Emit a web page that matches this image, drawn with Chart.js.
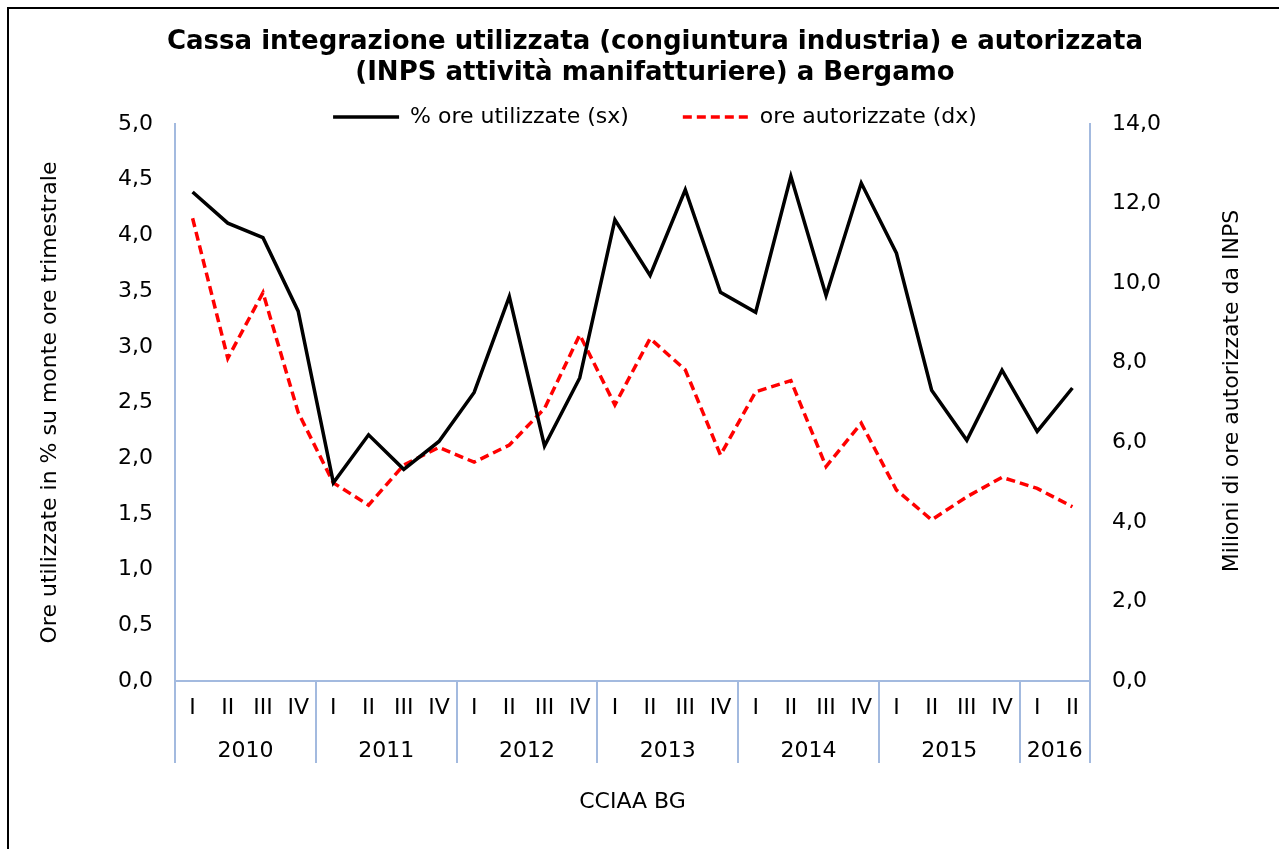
<!DOCTYPE html>
<html><head><meta charset="utf-8">
<script src="https://cdn.jsdelivr.net/npm/chart.js@4.4.1/dist/chart.umd.min.js"></script>
<style>
html,body{margin:0;padding:0;background:#fff;overflow:hidden;}
#wrap{position:relative;width:1279px;height:849px;}
#frame{position:absolute;left:7px;top:7px;width:1400px;height:1000px;border:2px solid #000;pointer-events:none;}
canvas{position:absolute;left:0;top:0;}
</style></head><body>
<div id="wrap"><canvas id="c" width="1279" height="849"></canvas><div id="frame"></div></div>
<script>
const quarters = ['I','II','III','IV','I','II','III','IV','I','II','III','IV','I','II','III','IV','I','II','III','IV','I','II','III','IV','I','II'];
const years = ['2010','2011','2012','2013','2014','2015','2016'];
const quartersPerYear = [4,4,4,4,4,4,2];
const oreUtilizzate = [4.39,4.11,3.98,3.32,1.78,2.21,1.90,2.15,2.59,3.45,2.11,2.72,4.14,3.64,4.41,3.49,3.31,4.53,3.46,4.47,3.84,2.61,2.16,2.79,2.24,2.63];
const oreAutorizzate = [11.63,8.11,9.76,6.75,4.98,4.42,5.43,5.87,5.50,5.93,6.85,8.70,6.94,8.61,7.82,5.68,7.27,7.55,5.39,6.48,4.80,4.05,4.63,5.12,4.84,4.38];
const seriesNames = ['% ore utilizzate (sx)','ore autorizzate (dx)'];
const titleLines = ['Cassa integrazione utilizzata (congiuntura industria) e autorizzata','(INPS attività manifatturiere) a Bergamo'];
const leftTitle = 'Ore utilizzate in % su monte ore trimestrale';
const rightTitle = 'Milioni di ore autorizzate da INPS';
const xTitle = 'CCIAA BG';

const FONT = 'DejaVu Sans';
const FS = 22;
const AXIS = '#a3badf';
const fmt = v => Number(v).toFixed(1).replace('.', ',');

const yearAxisPlugin = {
  id: 'yearAxis',
  afterLayout(chart) {
    // nudge the legend box down so its text sits just above the plot area
    const l = chart.legend;
    if (l) { l.top += 14; l.bottom += 14; }
  },
  afterDraw(chart) {
    const xs = chart.scales.x, ctx = chart.ctx;
    const n = quarters.length;
    const step = (xs.right - xs.left) / n;
    const y0 = xs.top, y1 = xs.top + 82;
    ctx.save();
    ctx.strokeStyle = AXIS; ctx.lineWidth = 2;
    let idx = 0; const bounds = [0];
    quartersPerYear.forEach(q => { idx += q; bounds.push(idx); });
    bounds.forEach(b => {
      const px = Math.round(xs.left + b * step);
      ctx.beginPath(); ctx.moveTo(px, y0); ctx.lineTo(px, y1); ctx.stroke();
    });
    ctx.fillStyle = '#000';
    ctx.font = FS + 'px "' + FONT + '"';
    ctx.textAlign = 'center'; ctx.textBaseline = 'middle';
    years.forEach((yr, i) => {
      const cx = xs.left + (bounds[i] + bounds[i + 1]) / 2 * step;
      ctx.fillText(yr, cx, xs.top + 70);
    });
    ctx.translate(1232, 391);
    ctx.rotate(-Math.PI / 2);
    ctx.fillText(rightTitle, 0, 0);
    ctx.restore();
  }
};

new Chart(document.getElementById('c'), {
  type: 'line',
  data: {
    labels: quarters,
    datasets: [
      { label: seriesNames[0], data: oreUtilizzate, yAxisID: 'y', borderColor: '#000', backgroundColor: '#000',
        borderWidth: 3.5, pointRadius: 0, pointStyle: 'line', tension: 0, borderJoinStyle: 'miter' },
      { label: seriesNames[1], data: oreAutorizzate, yAxisID: 'y1', borderColor: '#ff0000', backgroundColor: '#ff0000',
        borderWidth: 3.5, borderDash: [9, 5], pointRadius: 0, pointStyle: 'line', tension: 0 }
    ]
  },
  options: {
    responsive: false,
    animation: false,
    devicePixelRatio: 1,
    layout: { padding: { left: 31, right: 0, top: 0, bottom: 0 } },
    plugins: {
      title: {
        display: true, text: titleLines, color: '#000',
        font: { family: FONT, size: 26, weight: 'bold', lineHeight: 31 / 26 },
        padding: { top: 26.5, bottom: -50.5 }
      },
      legend: {
        display: true, position: 'top',
        labels: {
          usePointStyle: true, pointStyleWidth: 66, padding: 54, color: '#000',
          font: { family: FONT, size: FS },
          generateLabels(chart) {
            const items = Chart.defaults.plugins.legend.labels.generateLabels(chart);
            items.forEach(it => {
              const ds = chart.data.datasets[it.datasetIndex];
              it.lineDash = ds.borderDash || [];
              it.lineWidth = ds.borderWidth;
              it.strokeStyle = ds.borderColor;
              it.pointStyle = 'line';
            });
            return items;
          }
        }
      },
      tooltip: { enabled: false }
    },
    scales: {
      x: {
        type: 'category', offset: true,
        grid: { display: false, drawTicks: false },
        border: { display: true, color: AXIS, width: 2 },
        ticks: { color: '#000', font: { family: FONT, size: FS }, padding: 14, autoSkip: false, maxRotation: 0, minRotation: 0 },
        title: { display: true, text: xTitle, color: '#000', font: { family: FONT, size: FS }, padding: { top: 0, bottom: 33.8 } },
        afterFit: s => { s.height = 168; }
      },
      y: {
        position: 'left', min: 0, max: 5,
        grid: { display: false, drawTicks: false },
        border: { display: true, color: AXIS, width: 2 },
        ticks: { stepSize: 0.5, color: '#000', font: { family: FONT, size: FS }, padding: 22, callback: v => fmt(v) },
        title: { display: true, text: leftTitle, color: '#000', font: { family: FONT, size: FS }, padding: { top: 5.8, bottom: 0 } },
        afterFit: s => { s.width = 144; }
      },
      y1: {
        position: 'right', min: 0, max: 14,
        grid: { display: false, drawTicks: false },
        border: { display: true, color: AXIS, width: 2 },
        ticks: { stepSize: 2, color: '#000', font: { family: FONT, size: FS }, padding: 22, callback: v => fmt(v) },
        afterFit: s => { s.width = 189; }
      }
    }
  },
  plugins: [yearAxisPlugin]
});
</script>
</body></html>
